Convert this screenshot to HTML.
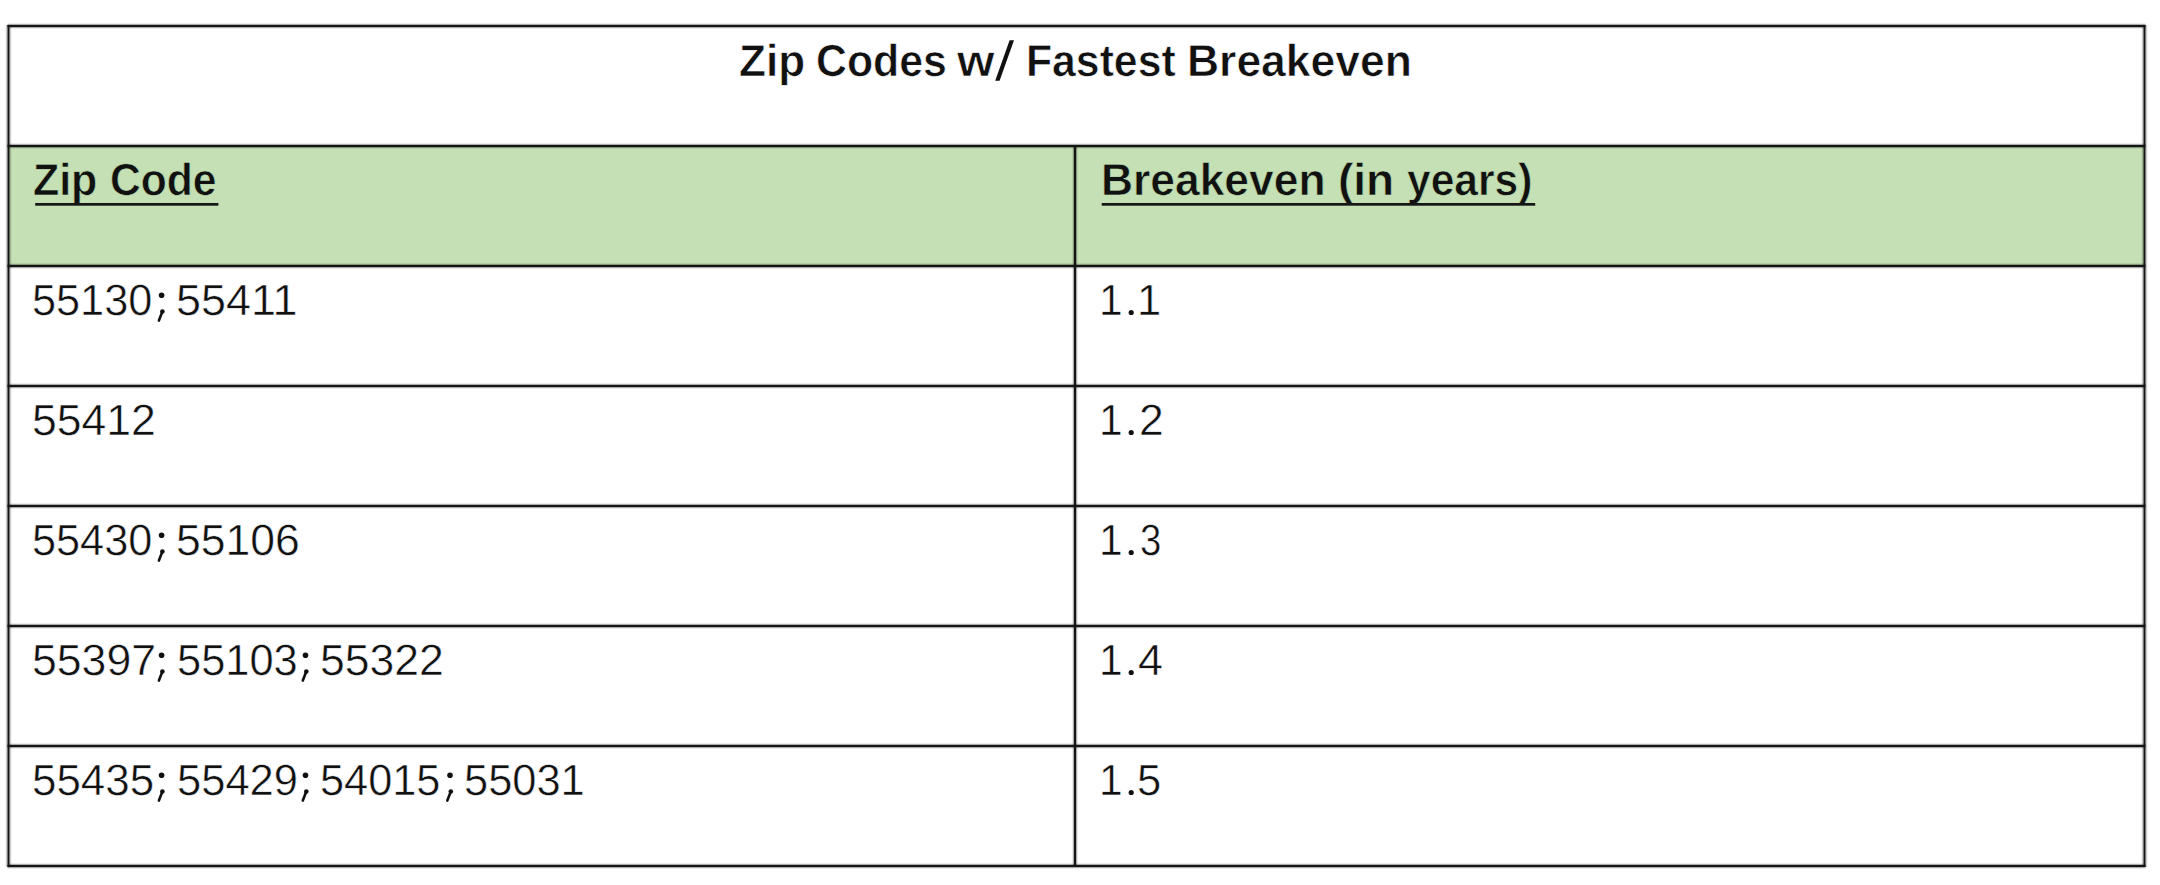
<!DOCTYPE html>
<html><head><meta charset="utf-8">
<style>
html,body{margin:0;padding:0;background:#fff;width:2160px;height:885px;overflow:hidden;}
#w{position:absolute;left:0;top:0;width:2160px;height:885px;font-family:"Liberation Sans",sans-serif;color:#111;text-rendering:geometricPrecision;}
svg{position:absolute;left:0;top:0;}

.t{position:absolute;line-height:43px;white-space:nowrap;transform-origin:0 0;}
.b{font-weight:bold;font-size:44.8px;-webkit-text-stroke:0.6px #fff;}
.bg{font-weight:bold;font-size:44.8px;-webkit-text-stroke:0.6px #c5e0b4;}
.n{font-size:43.8px;-webkit-text-stroke:0.5px #fff;}

</style></head><body><div id="w">
<svg width="2160" height="885" viewBox="0 0 2160 885">
<rect x="9" y="147" width="2135" height="118" fill="#c5e0b4"/>
<rect x="7.5" y="23" width="2138.0" height="1" fill="#000" fill-opacity="0.08"/>
<rect x="7.5" y="28" width="2138.0" height="1" fill="#000" fill-opacity="0.08"/>
<rect x="7.5" y="143" width="2138.0" height="1" fill="#000" fill-opacity="0.08"/>
<rect x="7.5" y="148" width="2138.0" height="1" fill="#000" fill-opacity="0.08"/>
<rect x="7.5" y="263" width="2138.0" height="1" fill="#000" fill-opacity="0.08"/>
<rect x="7.5" y="268" width="2138.0" height="1" fill="#000" fill-opacity="0.08"/>
<rect x="7.5" y="383" width="2138.0" height="1" fill="#000" fill-opacity="0.08"/>
<rect x="7.5" y="388" width="2138.0" height="1" fill="#000" fill-opacity="0.08"/>
<rect x="7.5" y="503" width="2138.0" height="1" fill="#000" fill-opacity="0.08"/>
<rect x="7.5" y="508" width="2138.0" height="1" fill="#000" fill-opacity="0.08"/>
<rect x="7.5" y="623" width="2138.0" height="1" fill="#000" fill-opacity="0.08"/>
<rect x="7.5" y="628" width="2138.0" height="1" fill="#000" fill-opacity="0.08"/>
<rect x="7.5" y="743" width="2138.0" height="1" fill="#000" fill-opacity="0.08"/>
<rect x="7.5" y="748" width="2138.0" height="1" fill="#000" fill-opacity="0.08"/>
<rect x="7.5" y="863" width="2138.0" height="1" fill="#000" fill-opacity="0.08"/>
<rect x="7.5" y="868" width="2138.0" height="1" fill="#000" fill-opacity="0.08"/>
<rect x="5.5" y="25" width="1" height="842" fill="#000" fill-opacity="0.08"/>
<rect x="10.5" y="25" width="1" height="842" fill="#000" fill-opacity="0.08"/>
<rect x="2141.5" y="25" width="1" height="842" fill="#000" fill-opacity="0.08"/>
<rect x="2146.5" y="25" width="1" height="842" fill="#000" fill-opacity="0.08"/>
<rect x="1072" y="147" width="1" height="718" fill="#000" fill-opacity="0.08"/>
<rect x="1077" y="147" width="1" height="718" fill="#000" fill-opacity="0.08"/>
<rect x="7.5" y="24" width="2138.0" height="1" fill="#000" fill-opacity="0.33"/>
<rect x="7.5" y="27" width="2138.0" height="1" fill="#000" fill-opacity="0.33"/>
<rect x="7.5" y="144" width="2138.0" height="1" fill="#000" fill-opacity="0.33"/>
<rect x="7.5" y="147" width="2138.0" height="1" fill="#000" fill-opacity="0.33"/>
<rect x="7.5" y="264" width="2138.0" height="1" fill="#000" fill-opacity="0.33"/>
<rect x="7.5" y="267" width="2138.0" height="1" fill="#000" fill-opacity="0.33"/>
<rect x="7.5" y="384" width="2138.0" height="1" fill="#000" fill-opacity="0.33"/>
<rect x="7.5" y="387" width="2138.0" height="1" fill="#000" fill-opacity="0.33"/>
<rect x="7.5" y="504" width="2138.0" height="1" fill="#000" fill-opacity="0.33"/>
<rect x="7.5" y="507" width="2138.0" height="1" fill="#000" fill-opacity="0.33"/>
<rect x="7.5" y="624" width="2138.0" height="1" fill="#000" fill-opacity="0.33"/>
<rect x="7.5" y="627" width="2138.0" height="1" fill="#000" fill-opacity="0.33"/>
<rect x="7.5" y="744" width="2138.0" height="1" fill="#000" fill-opacity="0.33"/>
<rect x="7.5" y="747" width="2138.0" height="1" fill="#000" fill-opacity="0.33"/>
<rect x="7.5" y="864" width="2138.0" height="1" fill="#000" fill-opacity="0.33"/>
<rect x="7.5" y="867" width="2138.0" height="1" fill="#000" fill-opacity="0.33"/>
<rect x="6.5" y="25" width="1" height="842" fill="#000" fill-opacity="0.33"/>
<rect x="9.5" y="25" width="1" height="842" fill="#000" fill-opacity="0.33"/>
<rect x="2142.5" y="25" width="1" height="842" fill="#000" fill-opacity="0.33"/>
<rect x="2145.5" y="25" width="1" height="842" fill="#000" fill-opacity="0.33"/>
<rect x="1073" y="147" width="1" height="718" fill="#000" fill-opacity="0.33"/>
<rect x="1076" y="147" width="1" height="718" fill="#000" fill-opacity="0.33"/>
<rect x="7.5" y="25" width="2138.0" height="2" fill="#141414"/>
<rect x="7.5" y="145" width="2138.0" height="2" fill="#141414"/>
<rect x="7.5" y="265" width="2138.0" height="2" fill="#141414"/>
<rect x="7.5" y="385" width="2138.0" height="2" fill="#141414"/>
<rect x="7.5" y="505" width="2138.0" height="2" fill="#141414"/>
<rect x="7.5" y="625" width="2138.0" height="2" fill="#141414"/>
<rect x="7.5" y="745" width="2138.0" height="2" fill="#141414"/>
<rect x="7.5" y="865" width="2138.0" height="2" fill="#141414"/>
<rect x="7.5" y="25" width="2" height="842" fill="#141414"/>
<rect x="2143.5" y="25" width="2" height="842" fill="#141414"/>
<rect x="1074" y="147" width="2" height="718" fill="#141414"/>
</svg>
<div class="t b" style="left:739.30px;top:39.5px;transform:scaleX(0.9833);">Zip</div>
<div class="t b" style="left:815.91px;top:39.5px;transform:scaleX(0.9563);">Codes</div>
<div class="t b" style="left:957.05px;top:39.5px;transform:scaleX(1.0767);">w</div>
<div class="t b" style="left:1026.14px;top:39.5px;transform:scaleX(0.9539);">Fastest</div>
<div class="t b" style="left:1186.62px;top:39.5px;transform:scaleX(0.9918);">Breakeven</div>
<div class="t bg" style="left:33.27px;top:158.5px;transform:scaleX(0.9576);">Zip</div>
<div class="t bg" style="left:110.32px;top:158.5px;transform:scaleX(0.9504);">Code</div>
<div class="t bg" style="left:1101.18px;top:158.5px;transform:scaleX(0.9907);">Breakeven</div>
<div class="t bg" style="left:1338.21px;top:158.5px;transform:scaleX(1.0270);">(in</div>
<div class="t bg" style="left:1407.00px;top:158.5px;transform:scaleX(0.9503);">years)</div>
<div class="t n" style="left:32.03px;top:278.5px;transform:scaleX(0.9878);">55130</div>
<div class="t n" style="left:175.84px;top:278.5px;transform:scaleX(1.0258);">55411</div>
<div class="t n" style="left:31.66px;top:398.5px;transform:scaleX(1.0166);">55412</div>
<div class="t n" style="left:32.03px;top:518.5px;transform:scaleX(0.9878);">55430</div>
<div class="t n" style="left:175.86px;top:518.5px;transform:scaleX(1.0168);">55106</div>
<div class="t n" style="left:31.95px;top:638.5px;transform:scaleX(1.0183);">55397</div>
<div class="t n" style="left:176.52px;top:638.5px;transform:scaleX(0.9912);">55103</div>
<div class="t n" style="left:320.36px;top:638.5px;transform:scaleX(1.0166);">55322</div>
<div class="t n" style="left:31.99px;top:758.5px;transform:scaleX(1.0025);">55435</div>
<div class="t n" style="left:176.52px;top:758.5px;transform:scaleX(0.9932);">55429</div>
<div class="t n" style="left:320.43px;top:758.5px;transform:scaleX(0.9889);">54015</div>
<div class="t n" style="left:464.22px;top:758.5px;transform:scaleX(0.9911);">55031</div>
<div class="t n" style="left:1098.96px;top:278.5px;transform:scaleX(0.9695);">1</div>
<div class="t n" style="left:1136.87px;top:278.5px;transform:scaleX(0.9914);">1</div>
<div class="t n" style="left:1098.96px;top:398.5px;transform:scaleX(0.9695);">1</div>
<div class="t n" style="left:1138.91px;top:398.5px;transform:scaleX(1.0147);">2</div>
<div class="t n" style="left:1098.96px;top:518.5px;transform:scaleX(0.9695);">1</div>
<div class="t n" style="left:1139.85px;top:518.5px;transform:scaleX(0.8745);">3</div>
<div class="t n" style="left:1098.96px;top:638.5px;transform:scaleX(0.9695);">1</div>
<div class="t n" style="left:1137.72px;top:638.5px;transform:scaleX(1.0256);">4</div>
<div class="t n" style="left:1098.96px;top:758.5px;transform:scaleX(0.9695);">1</div>
<div class="t n" style="left:1136.61px;top:758.5px;transform:scaleX(0.9948);">5</div>
<svg width="2160" height="885" viewBox="0 0 2160 885"><g fill="#161616"><rect x="35.2" y="203" width="183.2" height="2.7"/><rect x="1101.7" y="203" width="433.5" height="2.7"/></g><g fill="#111"><circle cx="161.60" cy="295.30" r="2.8"/><circle cx="162.40" cy="311.45" r="2.3"/><line x1="162.40" y1="311.45" x2="158.90" y2="320.55" stroke="#111" stroke-width="2.6" stroke-linecap="round"/><circle cx="161.60" cy="535.30" r="2.8"/><circle cx="162.40" cy="551.45" r="2.3"/><line x1="162.40" y1="551.45" x2="158.90" y2="560.55" stroke="#111" stroke-width="2.6" stroke-linecap="round"/><circle cx="161.60" cy="655.30" r="2.8"/><circle cx="162.40" cy="671.45" r="2.3"/><line x1="162.40" y1="671.45" x2="158.90" y2="680.55" stroke="#111" stroke-width="2.6" stroke-linecap="round"/><circle cx="305.50" cy="655.30" r="2.8"/><circle cx="306.30" cy="671.45" r="2.3"/><line x1="306.30" y1="671.45" x2="302.80" y2="680.55" stroke="#111" stroke-width="2.6" stroke-linecap="round"/><circle cx="161.60" cy="775.30" r="2.8"/><circle cx="162.40" cy="791.45" r="2.3"/><line x1="162.40" y1="791.45" x2="158.90" y2="800.55" stroke="#111" stroke-width="2.6" stroke-linecap="round"/><circle cx="305.50" cy="775.30" r="2.8"/><circle cx="306.30" cy="791.45" r="2.3"/><line x1="306.30" y1="791.45" x2="302.80" y2="800.55" stroke="#111" stroke-width="2.6" stroke-linecap="round"/><circle cx="450.00" cy="775.30" r="2.8"/><circle cx="450.80" cy="791.45" r="2.3"/><line x1="450.80" y1="791.45" x2="447.30" y2="800.55" stroke="#111" stroke-width="2.6" stroke-linecap="round"/><circle cx="1131.2" cy="312.5" r="2.6"/><circle cx="1131.2" cy="432.5" r="2.6"/><circle cx="1131.2" cy="552.5" r="2.6"/><circle cx="1131.2" cy="672.5" r="2.6"/><circle cx="1131.2" cy="792.5" r="2.6"/></g><polygon points="1009.6,40.3 1014.0,40.3 999.6,80.7 995.2,80.7" fill="#111"/></svg>
</div></body></html>
